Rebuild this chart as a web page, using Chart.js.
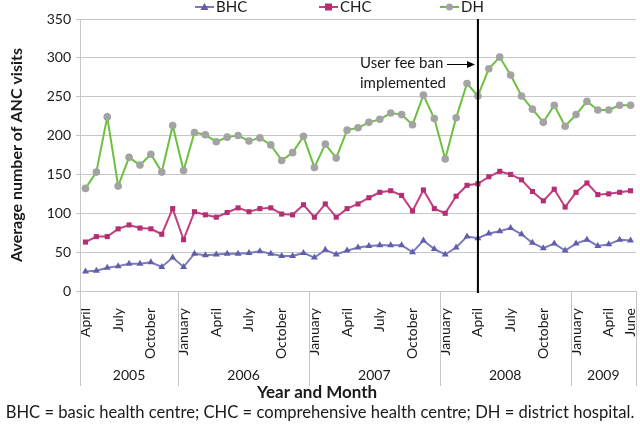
<!DOCTYPE html>
<html>
<head>
<meta charset="utf-8">
<script src="https://cdn.jsdelivr.net/npm/chart.js@4.4.1/dist/chart.umd.min.js"></script>
<style>
  html, body { margin: 0; padding: 0; background: #fff; }
</style>
</head>
<body>
<canvas id="chart" width="640" height="426"></canvas>
<script>
// monthly categories, April 2005 - June 2009
const months = [
  'April','May','June','July','August','September','October','November','December',
  'January','February','March','April','May','June','July','August','September','October','November','December',
  'January','February','March','April','May','June','July','August','September','October','November','December',
  'January','February','March','April','May','June','July','August','September','October','November','December',
  'January','February','March','April','May','June'
];
const years = [
  '2005','2005','2005','2005','2005','2005','2005','2005','2005',
  '2006','2006','2006','2006','2006','2006','2006','2006','2006','2006','2006','2006',
  '2007','2007','2007','2007','2007','2007','2007','2007','2007','2007','2007','2007',
  '2008','2008','2008','2008','2008','2008','2008','2008','2008','2008','2008','2008',
  '2009','2009','2009','2009','2009','2009'
];
const shownMonths = ['January', 'April', 'July', 'October'];

const bhc = [25, 26, 30, 32, 35, 35, 37, 31, 43, 31, 48, 46, 47, 48, 48, 49, 51,
  48, 45, 45, 49, 43, 53, 47, 52, 56, 58, 59, 59, 59, 50, 65, 54, 47, 56,
  70, 68, 74, 77, 81, 73, 62, 55, 61, 52, 61, 66, 58, 60, 66, 65];
const chc = [63, 70, 70, 80, 85, 81, 80, 73, 106, 66, 102, 98, 95, 101, 107, 102, 106,
  107, 99, 98, 111, 95, 112, 95, 106, 112, 120, 127, 129, 123, 103, 130, 106, 100, 122,
  136, 138, 147, 154, 150, 143, 128, 116, 131, 108, 127, 139, 124, 125, 127, 129];
const dh = [132, 153, 224, 135, 172, 162, 176, 153, 213, 155, 204, 201, 192, 198, 200, 193, 197,
  188, 168, 178, 199, 159, 189, 171, 207, 210, 217, 221, 229, 227, 214, 252, 222, 170, 223,
  267, 251, 286, 301, 278, 251, 234, 217, 239, 212, 227, 244, 233, 233, 239, 239];

const feeBan = { month: 'April', year: '2008' };

const FONT = 'Lato, "Open Sans", sans-serif';
const TXT = '#1a1a1a';

function drawMarker(ctx, style, x, y, color) {
  ctx.fillStyle = color;
  ctx.beginPath();
  if (style === 'triangle') {
    ctx.moveTo(x, y - 4); ctx.lineTo(x + 4, y + 3); ctx.lineTo(x - 4, y + 3);
  } else if (style === 'rect') {
    ctx.rect(x - 3.5, y - 3.5, 7, 7);
  } else {
    ctx.arc(x, y, 3.5, 0, Math.PI * 2);
  }
  ctx.closePath();
  ctx.fill();
}

const extras = {
  id: 'extras',
  afterDraw(chart) {
    const ctx = chart.ctx;
    const xs = chart.scales.x;
    const area = chart.chartArea;
    ctx.save();

    // year dividers and year labels
    ctx.strokeStyle = '#c6c6c6';
    ctx.lineWidth = 1;
    const bounds = [area.left];
    for (let i = 1; i < years.length; i++) {
      if (years[i] !== years[i - 1]) {
        bounds.push((xs.getPixelForValue(i - 1) + xs.getPixelForValue(i)) / 2);
      }
    }
    bounds.push(area.right);
    bounds.forEach(b => {
      ctx.beginPath();
      ctx.moveTo(Math.round(b) + 0.5, area.bottom);
      ctx.lineTo(Math.round(b) + 0.5, area.bottom + 95);
      ctx.stroke();
    });
    const uniqYears = years.filter((y, i) => i === 0 || y !== years[i - 1]);
    ctx.fillStyle = TXT;
    ctx.font = '14px ' + FONT;
    ctx.textAlign = 'center';
    ctx.textBaseline = 'middle';
    uniqYears.forEach((y, k) => {
      ctx.fillText(y, (bounds[k] + bounds[k + 1]) / 2, 375);
    });

    // axis titles and caption
    ctx.font = 'bold 17px ' + FONT;
    ctx.fillText('Year and Month', 317, 393);
    ctx.save();
    ctx.translate(17, (area.top + area.bottom) / 2);
    ctx.rotate(-Math.PI / 2);
    ctx.font = 'bold 16px ' + FONT;
    ctx.fillText('Average number of ANC visits', 0, 0);
    ctx.restore();
    ctx.font = '16.6px ' + FONT;
    ctx.fillText('BHC = basic health centre; CHC = comprehensive health centre; DH = district hospital.', 320, 413);

    // user fee ban line
    let idx = 0;
    for (let i = 0; i < months.length; i++) {
      if (months[i] === feeBan.month && years[i] === feeBan.year) idx = i;
    }
    const bx = xs.getPixelForValue(idx);
    ctx.strokeStyle = '#000';
    ctx.lineWidth = 2;
    ctx.beginPath();
    ctx.moveTo(bx, area.top);
    ctx.lineTo(bx, area.bottom + 2);
    ctx.stroke();

    ctx.font = '15px ' + FONT;
    ctx.textAlign = 'left';
    ctx.fillText('User fee ban', 360, 63);
    ctx.fillText('implemented', 360, 83);
    ctx.lineWidth = 1;
    ctx.beginPath();
    ctx.moveTo(447, 64.5);
    ctx.lineTo(468, 64.5);
    ctx.stroke();
    ctx.fillStyle = '#000';
    ctx.beginPath();
    ctx.moveTo(475, 64.5); ctx.lineTo(467, 61); ctx.lineTo(467, 68);
    ctx.closePath();
    ctx.fill();

    // legend
    const items = [
      { text: 'BHC', x: 195, ds: chart.data.datasets[0] },
      { text: 'CHC', x: 319, ds: chart.data.datasets[1] },
      { text: 'DH', x: 440, ds: chart.data.datasets[2] }
    ];
    ctx.font = '15px ' + FONT;
    items.forEach(it => {
      ctx.strokeStyle = it.ds.borderColor;
      ctx.lineWidth = 2;
      ctx.beginPath();
      ctx.moveTo(it.x, 7);
      ctx.lineTo(it.x + 19, 7);
      ctx.stroke();
      drawMarker(ctx, it.ds.pointStyle, it.x + 9.5, 7, it.ds.pointBackgroundColor);
      ctx.fillStyle = TXT;
      ctx.fillText(it.text, it.x + 21, 7);
    });
    ctx.restore();
  }
};

new Chart('chart', {
  type: 'line',
  data: {
    labels: months,
    datasets: [
      { label: 'BHC', data: bhc, borderColor: '#7a7abd', backgroundColor: '#5f5fab',
        pointBackgroundColor: '#5f5fab', pointBorderWidth: 0,
        pointStyle: 'triangle', pointRadius: 4, borderWidth: 2, tension: 0 },
      { label: 'CHC', data: chc, borderColor: '#c23f80', backgroundColor: '#b52e73',
        pointBackgroundColor: '#b52e73', pointBorderWidth: 0,
        pointStyle: 'rect', pointRadius: 3.6, borderWidth: 2, tension: 0 },
      { label: 'DH', data: dh, borderColor: '#6cc040', backgroundColor: '#a3a3a3',
        pointBackgroundColor: '#a3a3a3', pointBorderWidth: 0,
        pointStyle: 'circle', pointRadius: 3.8, borderWidth: 2, tension: 0 }
    ]
  },
  options: {
    responsive: false,
    animation: false,
    layout: { padding: { top: 19, right: 1, left: 0, bottom: 0 } },
    plugins: {
      legend: { display: false },
      tooltip: { enabled: false }
    },
    scales: {
      x: {
        offset: true,
        grid: { display: false },
        border: { color: '#c6c6c6' },
        ticks: {
          autoSkip: false, minRotation: 90, maxRotation: 90, padding: 9,
          color: TXT, font: { family: FONT, size: 14 },
          callback: (v, i) => (shownMonths.includes(months[i]) || i === months.length - 1) ? months[i] : null
        },
        afterFit: s => { s.height = 135; s.paddingLeft = 0; s.paddingRight = 0; }
      },
      y: {
        min: 0, max: 350,
        ticks: { stepSize: 50, padding: 5, color: TXT, font: { family: FONT, size: 14 } },
        grid: { color: '#c6c6c6', tickLength: 4 },
        border: { color: '#c6c6c6' },
        afterFit: s => { s.width = 80; }
      }
    }
  },
  plugins: [extras]
});
</script>
</body>
</html>
